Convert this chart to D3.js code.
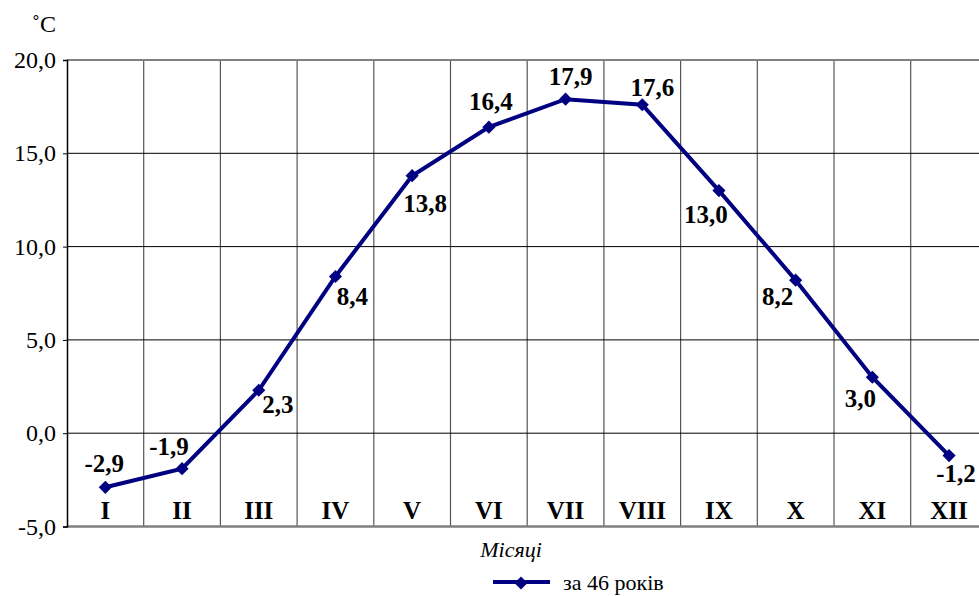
<!DOCTYPE html>
<html>
<head>
<meta charset="utf-8">
<script src="https://cdn.jsdelivr.net/npm/d3@7"></script>
<style>
  body { margin: 0; background: #fff; }
</style>
</head>
<body>
<div id="chart"></div>
<script>
const months = ['I', 'II', 'III', 'IV', 'V', 'VI', 'VII', 'VIII', 'IX', 'X', 'XI', 'XII'];
const temps = [-2.9, -1.9, 2.3, 8.4, 13.8, 16.4, 17.9, 17.6, 13.0, 8.2, 3.0, -1.2];
const yTicks = [-5, 0, 5, 10, 15, 20];
const seriesName = 'за 46 років';

// where each value label sits relative to its point (dx, baseline dy)
const labelPlace = [
    [-1, -15], [-13, -14], [19, 23], [17, 29], [13, 36], [2, -17],
    [5, -14], [10, -9], [-13, 32], [-18, 25], [-12, 30], [7, 26]
];

const FONT = '"Liberation Serif", "Times New Roman", serif';
const width = 979;
const height = 596;
const margin = { left: 67, top: 60 };
const plotW = 920.4;
const plotH = 466.5;

const svg = d3.select('#chart').append('svg')
    .attr('width', width)
    .attr('height', height);

const x = d3.scaleBand().domain(months).range([margin.left, margin.left + plotW]);
const y = d3.scaleLinear().domain([-5, 20]).range([margin.top + plotH, margin.top]);

const fmt = v => d3.format('.1f')(v).replace('.', ',').replace('−', '-');

// vertical grid
svg.append('g')
    .selectAll('line')
    .data(months.slice(1))
    .join('line')
        .attr('x1', d => x(d))
        .attr('x2', d => x(d))
        .attr('y1', y(20))
        .attr('y2', y(-5))
        .attr('stroke', '#555')
        .attr('stroke-width', 1.2);

// horizontal grid
svg.append('g')
    .selectAll('line')
    .data(yTicks.filter(t => t > -5))
    .join('line')
        .attr('x1', margin.left)
        .attr('x2', margin.left + plotW)
        .attr('y1', d => y(d))
        .attr('y2', d => y(d))
        .attr('stroke', d => d === 20 ? '#808080' : '#000')
        .attr('stroke-width', d => d === 20 ? 2 : 1);

svg.append('line')
    .attr('x1', margin.left).attr('x2', margin.left + plotW)
    .attr('y1', y(-5)).attr('y2', y(-5))
    .attr('stroke', '#808080').attr('stroke-width', 2.5);

// y axis
const yAxis = svg.append('g')
    .attr('transform', `translate(${margin.left},0)`)
    .call(d3.axisLeft(y).tickValues(yTicks).tickSize(4).tickPadding(7).tickFormat(fmt));
yAxis.select('.domain').attr('stroke', '#000').attr('stroke-width', 1.5);
yAxis.selectAll('.tick line').attr('stroke', '#000');
yAxis.selectAll('text')
    .style('font-family', FONT)
    .style('font-size', '24px')
    .attr('fill', '#000');

svg.append('text')
    .attr('x', 44).attr('y', 32)
    .attr('text-anchor', 'middle')
    .style('font-family', FONT)
    .style('font-size', '24px')
    .text('˚C');

// month labels
svg.append('g')
    .selectAll('text')
    .data(months)
    .join('text')
        .attr('x', d => x(d) + x.bandwidth() / 2)
        .attr('y', y(-5) - 8)
        .attr('text-anchor', 'middle')
        .style('font-family', FONT)
        .style('font-weight', 'bold')
        .style('font-size', '25px')
        .text(d => d);

// series
const cx = (d, i) => x(months[i]) + x.bandwidth() / 2;
const line = d3.line().x(cx).y(d => y(d));

svg.append('path')
    .datum(temps)
    .attr('d', line)
    .attr('fill', 'none')
    .attr('stroke', '#000080')
    .attr('stroke-width', 4);

const diamond = d3.symbol().type(d3.symbolDiamond2).size(110);

svg.append('g')
    .selectAll('path')
    .data(temps)
    .join('path')
        .attr('d', diamond)
        .attr('transform', (d, i) => `translate(${cx(d, i)},${y(d)})`)
        .attr('fill', '#000080');

svg.append('g')
    .selectAll('text')
    .data(temps)
    .join('text')
        .attr('x', (d, i) => cx(d, i) + labelPlace[i][0])
        .attr('y', (d, i) => y(d) + labelPlace[i][1])
        .attr('text-anchor', 'middle')
        .style('font-family', FONT)
        .style('font-weight', 'bold')
        .style('font-size', '25px')
        .text(fmt);

// axis title
svg.append('text')
    .attr('x', 511).attr('y', 557)
    .attr('text-anchor', 'middle')
    .style('font-family', FONT)
    .style('font-style', 'italic')
    .style('font-size', '22px')
    .text('Місяці');

// legend
const legend = svg.append('g');
legend.append('line')
    .attr('x1', 493).attr('x2', 550)
    .attr('y1', 582).attr('y2', 582)
    .attr('stroke', '#000080').attr('stroke-width', 4);
legend.append('path')
    .attr('d', diamond)
    .attr('transform', 'translate(521,583)')
    .attr('fill', '#000080');
legend.append('text')
    .attr('x', 563).attr('y', 590)
    .style('font-family', FONT)
    .style('font-size', '22px')
    .text(seriesName);
</script>
</body>
</html>
